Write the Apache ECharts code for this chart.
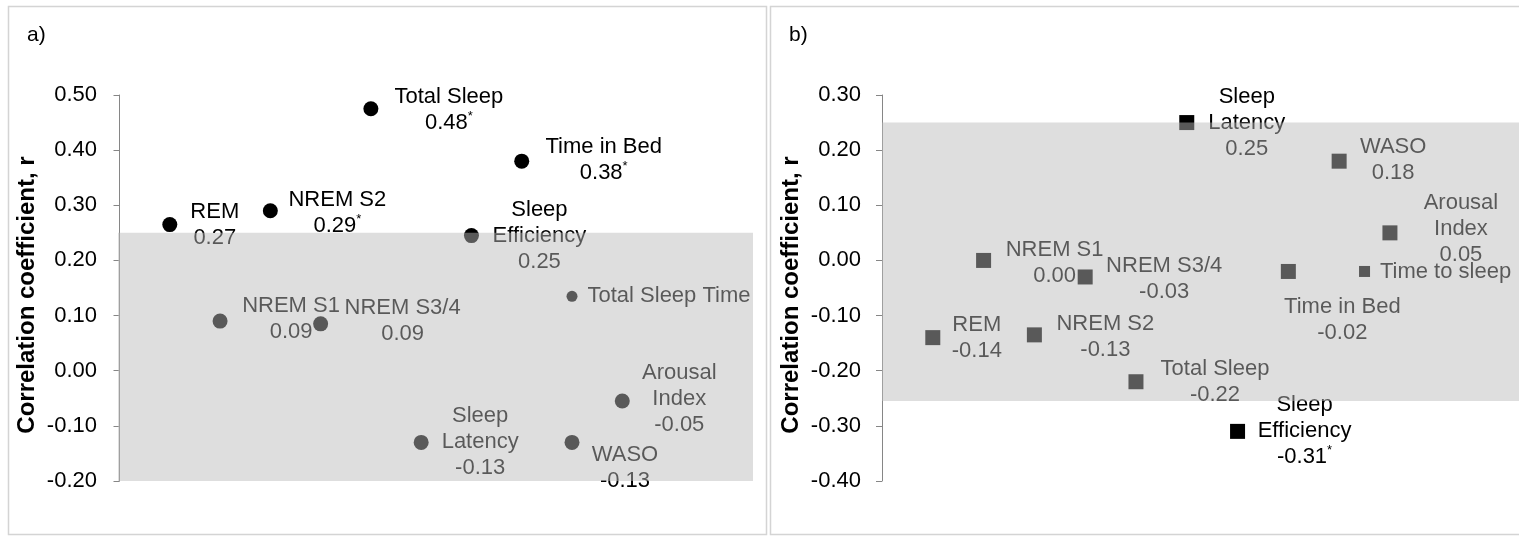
<!DOCTYPE html>
<html><head><meta charset="utf-8">
<script src="https://cdn.jsdelivr.net/npm/echarts@6/dist/echarts.min.js"></script>
<style>html,body{margin:0;padding:0;overflow:hidden;background:#fff}#c{width:1545px;height:537px}</style>
</head><body><div id="c"></div>
<script>
// ---------- DATA ----------
// Panel a) circles
const labelsA = ['REM','NREM S1','NREM S2','NREM S3/4','Total Sleep','Sleep\nLatency','Sleep\nEfficiency','Time in Bed','Total Sleep Time','WASO','Arousal\nIndex'];
const xA      = [1, 2, 3, 4, 5, 6, 7, 8, 9, 9, 10];
const rA      = [0.265, 0.09, 0.29, 0.085, 0.475, -0.13, 0.245, 0.38, 0.135, -0.13, -0.055];
const shownA  = ['0.27','0.09','0.29*','0.09','0.48*','-0.13','0.25','0.38*','','-0.13','-0.05'];
// Panel b) squares
const labelsB = ['REM','NREM S1','NREM S2','NREM S3/4','Total Sleep','Sleep\nLatency','Sleep\nEfficiency','Time in Bed','WASO','Time to sleep','Arousal\nIndex'];
const xB      = [1, 2, 3, 4, 5, 6, 7, 8, 9, 9.5, 10];
const rB      = [-0.14, 0.00, -0.135, -0.03, -0.22, 0.25, -0.31, -0.02, 0.18, -0.02, 0.05];
const shownB  = ['-0.14','0.00','-0.13','-0.03','-0.22','0.25','-0.31*','-0.02','0.18','','0.05'];
// axis ticks
const yTicksA = {min: -0.2, max: 0.5, interval: 0.1};
const yTicksB = {min: -0.4, max: 0.3, interval: 0.1};
const bandA = [-0.2, 0.25];
const bandB = [-0.255, 0.25];

// ---------- LAYOUT / STYLE ----------
const offA = [[45,0],[71,-2],[67,2],[82,-3],[78,1],[59,0],[68,0],[82,-1],[97,0],[53,26],[57,-2]];
const sizeA = [15,15,15,15,15,15,15,15,11,15,15];
const offB = [[44,0],[71,3],[71,2],[79,2],[79,0],[60,0],[67,0],[54,48],[54,-1],[81,0],[71,-4]];
const sizeB = [15,15,15,15,15,15,15,15,15,11,15];
const FONT = '"Liberation Sans", Arial, sans-serif';

function labelText(name, shown) {
  let t = name;
  if (shown) t += '\n' + shown.replace('*', '{sup|*}');
  return t;
}
function buildData(xs, ys, names, shown, offs, sizes) {
  return xs.map((x, i) => ({
    value: [x, ys[i]],
    symbolSize: sizes[i],
    label: {offset: offs[i], formatter: labelText(names[i], shown[i])}
  }));
}
const labelStyle = {
  show: true, position: 'inside', align: 'center', verticalAlign: 'middle',
  color: '#000', fontSize: 22, lineHeight: 26, fontFamily: FONT,
  rich: {sup: {fontSize: 13, lineHeight: 14, verticalAlign: 'top', color: '#000', fontFamily: FONT}}
};
const fmt = v => (Math.abs(v) < 1e-9 ? 0 : v).toFixed(2);
function yAxisCfg(idx, t) {
  return {
    type: 'value', gridIndex: idx, min: t.min, max: t.max, interval: t.interval,
    splitLine: {show: false},
    axisLine: {show: true, lineStyle: {color: '#868686', width: 1}},
    axisTick: {show: true, length: 6, lineStyle: {color: '#868686'}},
    axisLabel: {fontSize: 22, color: '#000', margin: 21, fontFamily: FONT, formatter: fmt},
    name: 'Correlation coefficient, r', nameLocation: 'middle', nameGap: 79,
    nameTextStyle: {fontSize: 24, fontWeight: 'bold', color: '#000', fontFamily: FONT, padding: [0, 14, 0, 0]}
  };
}
const overlay = (idx, band) => ({
  type: 'scatter', xAxisIndex: idx, yAxisIndex: idx, data: [], z: 10, silent: true,
  markArea: {silent: true, z: 30, zlevel: 0, itemStyle: {color: 'rgba(186,186,186,0.48)'},
    data: [[{yAxis: band[0]}, {yAxis: band[1]}]]}
});

const chart = echarts.init(document.getElementById('c'), null, {renderer: 'canvas'});
chart.setOption({
  animation: false,
  backgroundColor: '#fff',
  title: [
    {text: 'a)', left: 22, top: 20, textStyle: {fontSize: 21, fontWeight: 'normal', color: '#000', fontFamily: FONT}},
    {text: 'b)', left: 784, top: 20, textStyle: {fontSize: 21, fontWeight: 'normal', color: '#000', fontFamily: FONT}}
  ],
  graphic: [
    {type: 'rect', z: -1, shape: {x: 8.5, y: 6.5, width: 758, height: 528}, style: {fill: null, stroke: '#d4d4d4', lineWidth: 1.5}},
    {type: 'rect', z: -1, shape: {x: 770.5, y: 6.5, width: 768, height: 528}, style: {fill: null, stroke: '#d4d4d4', lineWidth: 1.5}}
  ],
  grid: [
    {left: 118, top: 95, width: 635, height: 386},
    {left: 882, top: 95, width: 640, height: 386}
  ],
  xAxis: [
    {type: 'value', gridIndex: 0, min: -0.03, max: 12.6, show: false},
    {type: 'value', gridIndex: 1, min: 0, max: 12.6, show: false}
  ],
  yAxis: [yAxisCfg(0, yTicksA), yAxisCfg(1, yTicksB)],
  series: [
    {type: 'scatter', xAxisIndex: 0, yAxisIndex: 0, z: 2, symbol: 'circle',
     itemStyle: {color: '#000', opacity: 1}, label: labelStyle,
     data: buildData(xA, rA, labelsA, shownA, offA, sizeA)},
    {type: 'scatter', xAxisIndex: 1, yAxisIndex: 1, z: 2, symbol: 'rect',
     itemStyle: {color: '#000', opacity: 1}, label: labelStyle,
     data: buildData(xB, rB, labelsB, shownB, offB, sizeB)},
    overlay(0, bandA),
    overlay(1, bandB)
  ]
});
</script></body></html>
